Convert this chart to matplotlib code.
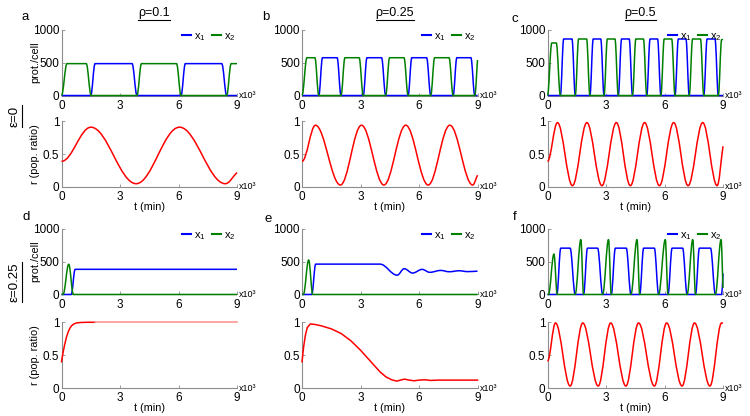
import matplotlib
matplotlib.use("Agg")
import matplotlib.pyplot as plt
from matplotlib.path import Path
from matplotlib.patches import PathPatch
from matplotlib.lines import Line2D

plt.rcParams['font.family'] = ['Liberation Sans', 'DejaVu Sans']

# ---- data (t in 10^3 min) ----
# knots: plateaus / extrema of each trace

# panel a  (eps=0, rho=0.1)
a_x1_t = [0, 1.50, 1.72, 3.62, 3.87, 6.13, 6.35, 8.22, 8.47, 9.0]
a_x1 = [0, 0, 485, 485, 0, 0, 485, 485, 0, 0]
a_x2_t = [0, 0.28, 1.27, 1.52, 3.87, 4.10, 5.90, 6.13, 8.47, 8.70, 9.0]
a_x2 = [0, 485, 485, 0, 0, 485, 485, 0, 0, 485, 485]
a_r_t = [0, 1.51, 3.83, 6.05, 8.40, 9.0]
a_r = [0.39, 0.91, 0.05, 0.91, 0.05, 0.22]

# panel b  (eps=0, rho=0.25)
b_x1_t = [0, 0.86, 1.05, 1.80, 2.00, 3.14, 3.33, 4.08, 4.29, 5.44, 5.63, 6.39, 6.60, 7.75, 7.94, 8.66, 8.86, 9.0]
b_x1 = [0, 0, 575, 575, 0, 0, 575, 575, 0, 0, 575, 575, 0, 0, 575, 575, 0, 0]
b_x2_t = [0, 0.25, 0.66, 0.86, 2.00, 2.20, 2.93, 3.14, 4.29, 4.49, 5.23, 5.44, 6.60, 6.80, 7.54, 7.75, 8.86, 9.0]
b_x2 = [0, 575, 575, 0, 0, 575, 575, 0, 0, 575, 575, 0, 0, 575, 575, 0, 0, 540]
b_r_t = [0, 0.69, 1.97, 3.05, 4.20, 5.32, 6.47, 7.58, 8.75, 9.0]
b_r = [0.39, 0.94, 0.03, 0.94, 0.03, 0.94, 0.03, 0.94, 0.03, 0.18]

# panel c  (eps=0, rho=0.5)
c_x1_t = [0, 0.66, 0.83, 1.255, 1.425, 2.175, 2.345, 2.73, 2.90, 3.63, 3.80, 4.19, 4.36,
          5.09, 5.26, 5.645, 5.815, 6.54, 6.71, 7.10, 7.27, 8.015, 8.185, 8.59, 8.76, 9.0]
c_x1 = [0, 0, 860, 860, 0, 0, 860, 860, 0, 0, 860, 860, 0,
        0, 860, 860, 0, 0, 860, 860, 0, 0, 860, 860, 0, 0]
c_x2_t = [0, 0.22, 0.45, 0.66, 1.425, 1.595, 2.005, 2.175, 2.90, 3.07, 3.46, 3.63, 4.36, 4.53,
          4.92, 5.09, 5.815, 5.985, 6.37, 6.54, 7.27, 7.44, 7.845, 8.015, 8.76, 8.93, 9.0]
c_x2 = [0, 800, 800, 0, 0, 860, 860, 0, 0, 860, 860, 0, 0, 860,
        860, 0, 0, 860, 860, 0, 0, 860, 860, 0, 0, 850, 855]
c_r_t = [0, 0.51, 1.28, 2.02, 2.79, 3.53, 4.25, 4.98, 5.74, 6.47, 7.21, 7.96, 8.70, 9.0]
c_r = [0.39, 0.98, 0.02, 0.98, 0.02, 0.98, 0.02, 0.98, 0.02, 0.98, 0.02, 0.98, 0.02, 0.62]

# panel d  (eps=0.25, rho=0.1)
d_x1_t = [0, 0.50, 0.70, 9.0]
d_x1 = [0, 0, 383, 383]
d_x2_t = [0, 0.08, 0.37, 0.61, 9.0]
d_x2 = [0, 0, 460, 0, 0]
d_r_t = [0, 0.05, 0.10, 0.17, 0.25, 0.34, 0.42, 0.51, 0.62, 0.77, 1.0, 1.3, 1.7, 9.0]
d_r = [0.40, 0.49, 0.57, 0.67, 0.77, 0.85, 0.905, 0.945, 0.972, 0.99, 0.997, 1.0, 1.0, 1.0]
d_r_fade = 12  # from this knot on the trace is drawn paler, as in the source

# panel e  (eps=0.25, rho=0.25)
e_x1_t = [0, 0.50, 0.70, 4.00, 4.88, 5.24, 5.67, 6.16, 6.55, 7.11, 7.55, 8.06, 8.49, 9.0]
e_x1 = [0, 0, 462, 462, 294, 392, 326, 382, 337, 366, 346, 361, 348, 355]
e_x2_t = [0, 0.07, 0.34, 0.55, 9.0]
e_x2 = [0, 0, 525, 0, 0]
e_r_t = [0, 0.08, 0.17, 0.27, 0.43, 0.7, 1.0, 1.5, 2.0, 2.5, 3.0, 3.5, 4.0, 4.3,
         4.6, 4.85, 5.05, 5.25, 5.5, 5.75, 6.0, 6.3, 6.6, 7.0, 9.0]
e_r = [0.40, 0.62, 0.80, 0.92, 0.975, 0.965, 0.945, 0.90, 0.83, 0.72, 0.575, 0.41, 0.245, 0.17,
       0.125, 0.105, 0.12, 0.135, 0.12, 0.11, 0.12, 0.125, 0.115, 0.12, 0.12]

# panel f  (eps=0.25, rho=0.5)
f_x1_t = [0, 0.48, 0.68, 1.16, 1.42, 1.85, 2.05, 2.57, 2.83, 3.27, 3.48, 4.04, 4.28, 4.73,
          4.93, 5.48, 5.70, 6.18, 6.39, 6.93, 7.16, 7.59, 7.79, 8.36, 8.61, 8.93, 9.0]
f_x1 = [0, 0, 705, 705, 0, 0, 705, 705, 0, 0, 705, 705, 0, 0,
        705, 705, 0, 0, 705, 705, 0, 0, 705, 705, 0, 0, 320]
f_x2_t = [0, 0.05, 0.33, 0.50, 1.42, 1.71, 1.85, 2.83, 3.13, 3.27, 4.28, 4.59, 4.73,
          5.70, 6.04, 6.18, 7.16, 7.45, 7.59, 8.61, 8.90, 9.0]
f_x2 = [0, 0, 615, 0, 0, 835, 0, 0, 835, 0, 0, 835, 0,
        0, 835, 0, 0, 835, 0, 0, 835, 100]
f_r_t = [0, 0.41, 1.16, 1.81, 2.60, 3.24, 4.02, 4.67, 5.48, 6.11, 6.90, 7.54, 8.33, 8.93, 9.0]
f_r = [0.41, 0.99, 0.03, 0.99, 0.03, 0.99, 0.03, 0.99, 0.03, 0.99, 0.03, 0.99, 0.03, 0.99, 0.985]

col_titles = ['ρ=0.1', 'ρ=0.25', 'ρ=0.5']
row_titles = ['ε=0', 'ε=0.25']
letters = ['a', 'b', 'c', 'd', 'e', 'f']

BLUE = '#0000ff'
GREEN = '#008000'
RED = '#ff0000'
PALE_RED = '#ff8c8c'
GRAY = '#8c8c8c'
LW = 1.1
K = 0.363  # bezier handle length

panels = [
    ((a_x1_t, a_x1), (a_x2_t, a_x2), (a_r_t, a_r), True),
    ((b_x1_t, b_x1), (b_x2_t, b_x2), (b_r_t, b_r), True),
    ((c_x1_t, c_x1), (c_x2_t, c_x2), (c_r_t, c_r), True),
    ((d_x1_t, d_x1), (d_x2_t, d_x2), (d_r_t, d_r), False),
    ((e_x1_t, e_x1), (e_x2_t, e_x2), (e_r_t, e_r), False),
    ((f_x1_t, f_x1), (f_x2_t, f_x2), (f_r_t, f_r), True),
]

lefts = [0.082, 0.4027, 0.730]
width = 0.234
height = 0.158
prot_bottoms = [0.7704, 0.2921]
r_bottoms = [0.5505, 0.0673]


def smooth_line(ax, t, y, color):
    # cubic segments between knots, flat tangents at the knots
    verts = [(t[0], y[0])]
    codes = [Path.MOVETO]
    n = len(t)
    for i in range(n - 1):
        d = t[i + 1] - t[i]
        end_dy = (y[i + 1] - y[i]) * K if i == n - 2 else 0.0
        verts += [(t[i] + K * d, y[i]), (t[i + 1] - K * d, y[i + 1] - end_dy), (t[i + 1], y[i + 1])]
        codes += [Path.CURVE4] * 3
    ax.add_patch(PathPatch(Path(verts, codes), fill=False, edgecolor=color, lw=LW,
                           zorder=3, clip_on=False, joinstyle='round'))


def style_axes(ax, ylim, yticks, yticklabels):
    ax.set_xlim(0, 9)
    ax.set_ylim(*ylim)
    ax.patch.set_alpha(0)
    for s in ['top', 'right']:
        ax.spines[s].set_visible(False)
    for s in ['left', 'bottom']:
        ax.spines[s].set_color(GRAY)
        ax.spines[s].set_linewidth(0.8)
    ax.set_xticks([0, 3, 6, 9])
    ax.set_xticklabels(['0', '3', '6', '9'])
    ax.set_yticks(yticks)
    ax.set_yticklabels(yticklabels)
    ax.tick_params(direction='in', length=2, width=0.6, color=GRAY, labelsize=8.5)
    ax.tick_params(axis='x', pad=3)
    ax.tick_params(axis='y', pad=1.5)
    ax.text(1.012, 0, 'x10³', transform=ax.transAxes, fontsize=6.5, ha='left', va='center')


fig = plt.figure(figsize=(7.5, 4.16), dpi=100)

for k, (x1, x2, r, r_smooth) in enumerate(panels):
    row, col = divmod(k, 3)

    axp = fig.add_axes([lefts[col], prot_bottoms[row], width, height])
    style_axes(axp, (0, 1000), [0, 500, 1000], ['0', '500', '1000'])
    smooth_line(axp, x1[0], x1[1], BLUE)
    smooth_line(axp, x2[0], x2[1], GREEN)
    handles = [Line2D([], [], color=BLUE, lw=1.5), Line2D([], [], color=GREEN, lw=1.5)]
    axp.legend(handles, [r'$\mathregular{x_1}$', r'$\mathregular{x_2}$'], loc='upper right',
               bbox_to_anchor=(1.015, 1.05), ncol=2, frameon=False, fontsize=8,
               handlelength=0.8, handletextpad=0.25, columnspacing=0.6, borderaxespad=0)

    axr = fig.add_axes([lefts[col], r_bottoms[row], width, height])
    style_axes(axr, (0, 1), [0, 0.5, 1], ['0', '0.5', '1'])
    if r_smooth:
        smooth_line(axr, r[0], r[1], RED)
    elif k == 3:
        axr.plot(r[0][:d_r_fade + 1], r[1][:d_r_fade + 1], color=RED, lw=LW, clip_on=False,
                 zorder=3, solid_joinstyle='round')
        axr.plot(r[0][d_r_fade:], r[1][d_r_fade:], color=PALE_RED, lw=LW, clip_on=False,
                 zorder=3)
    else:
        axr.plot(r[0], r[1], color=RED, lw=LW, clip_on=False, zorder=3, solid_joinstyle='round')
    axr.set_xlabel('t (min)', fontsize=7.8)
    axr.xaxis.set_label_coords(0.5, -0.23)

    if col == 0:
        axp.set_ylabel('prot./cell', fontsize=7.8)
        axp.yaxis.set_label_coords(-0.12, 0.5)
        axr.set_ylabel('r (pop. ratio)', fontsize=7.8)
        axr.yaxis.set_label_coords(-0.12, 0.5)

# panel letters
letter_pos = [(25, 17), (266, 17), (515, 19), (26, 217), (268, 219), (515, 217)]
for ch, (px, py) in zip(letters, letter_pos):
    fig.text(px / 750, 1 - py / 416, ch, fontsize=9.5, ha='center', va='center')

# underlined column / row headings
heads = []
for col, s in enumerate(col_titles):
    cx = lefts[col] + width / 2 + 5 / 750
    heads.append((fig.text(cx, 1 - 13 / 416, s, fontsize=9, ha='center', va='center'), False))
for row, (s, py) in enumerate(zip(row_titles, [116, 282])):
    heads.append((fig.text(15 / 750, 1 - py / 416, s, fontsize=9.5, ha='center', va='center',
                           rotation=90), True))

fig.canvas.draw()
renderer = fig.canvas.get_renderer()
inv = fig.transFigure.inverted()
for txt, vertical in heads:
    bb = txt.get_window_extent(renderer).transformed(inv)
    if vertical:
        xs, ys = [bb.x1 + 0.001, bb.x1 + 0.001], [bb.y0, bb.y1]
    else:
        xs, ys = [bb.x0, bb.x1], [bb.y0 - 0.002, bb.y0 - 0.002]
    fig.add_artist(Line2D(xs, ys, transform=fig.transFigure, color='black', lw=0.8))

fig.savefig('out.png', dpi=100)
